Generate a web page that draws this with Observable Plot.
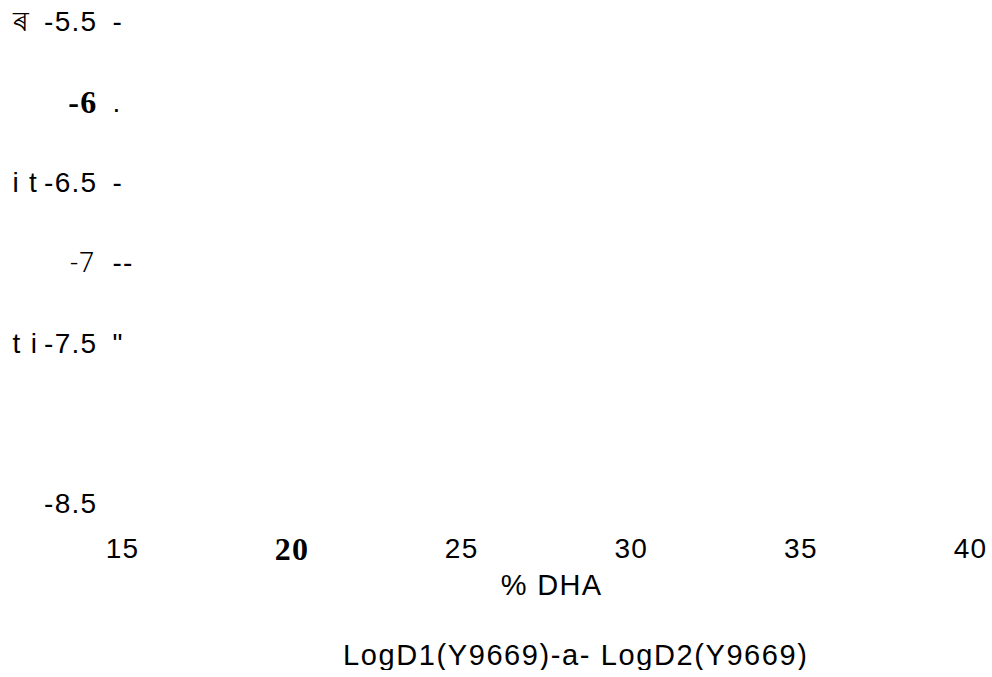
<!DOCTYPE html>
<html>
<head>
<meta charset="utf-8">
<script src="https://cdn.jsdelivr.net/npm/d3@7"></script>
<script src="https://cdn.jsdelivr.net/npm/@observablehq/plot@0.6"></script>
<style>
  html, body { margin: 0; padding: 0; background: #fff; }
  #chart svg { display: block; }
  #legend {
    font-family: "Liberation Sans", Arial, sans-serif;
    font-size: 29px;
    line-height: 29px;
    letter-spacing: 1.6px;
    color: #000;
    margin-top: 31px;
    padding-left: 343px;
    white-space: pre;
  }
</style>
</head>
<body>
<div id="chart"></div>
<div id="legend"></div>
<script>
// ---- data ----
const xTicks = [15, 20, 25, 30, 35, 40];
const yTicks = [-5.5, -6, -6.5, -7, -7.5, -8.5];
const yPrefix = ["ৰ", "", "i t", "", "t i", ""];
const ySuffix = ["-", ".", "-", "--", "\"", ""];
const xLabel = "% DHA";
const legendText = "LogD1(Y9669)-a- LogD2(Y9669)";

// ---- presentation ----
const sans = "'Liberation Sans', Arial, sans-serif";
const serif = "'Liberation Serif', 'Times New Roman', serif";
const boldX = new Set([20]);
const boldY = new Set([-6]);
const lightY = new Set([-7]);
const fmt = d => String(d);

const yRows = yTicks.map((v, i) => ({v, prefix: yPrefix[i], suffix: ySuffix[i]}));

const chart = Plot.plot({
  width: 992,
  height: 610,
  marginTop: 22,
  marginBottom: 106,
  marginLeft: 100,
  marginRight: 22,
  style: {background: "#fff", color: "#000", letterSpacing: "1.3px"},
  x: {domain: [15, 40], insetLeft: 22},
  y: {domain: [-8.5, -5.5]},
  marks: [
    Plot.axisY(yTicks.filter(v => !boldY.has(v) && !lightY.has(v)), {
      anchor: "left", tickSize: 0, tickPadding: 3, tickFormat: fmt,
      fontSize: 28, fontFamily: sans, label: null
    }),
    Plot.axisY(yTicks.filter(v => boldY.has(v)), {
      anchor: "left", tickSize: 0, tickPadding: 3, tickFormat: fmt,
      fontSize: 32, fontFamily: serif, fontWeight: "bold", label: null
    }),
    Plot.axisY(yTicks.filter(v => lightY.has(v)), {
      anchor: "left", tickSize: 0, tickPadding: 5, tickFormat: fmt,
      fontSize: 27, fontFamily: "Roboto, sans-serif", fontWeight: 300, label: null
    }),
    Plot.text(yRows, {
      y: "v", text: "prefix", frameAnchor: "left", textAnchor: "start",
      dx: -88, fontSize: 28, fontFamily: sans
    }),
    Plot.text(yRows, {
      y: "v", text: "suffix", frameAnchor: "left", textAnchor: "start",
      dx: 12, fontSize: 28, fontFamily: sans
    }),
    Plot.axisX(xTicks.filter(v => !boldX.has(v)), {
      anchor: "bottom", tickSize: 0, tickPadding: 34, tickFormat: fmt,
      fontSize: 28, fontFamily: sans, label: null
    }),
    Plot.axisX(xTicks.filter(v => boldX.has(v)), {
      anchor: "bottom", tickSize: 0, tickPadding: 33, tickFormat: fmt,
      fontSize: 32, fontFamily: serif, fontWeight: "bold", label: null
    }),
    Plot.text([xLabel], {
      text: d => d, frameAnchor: "bottom", lineAnchor: "middle",
      dx: 16, dy: 81, fontSize: 29, fontFamily: sans
    })
  ]
});

document.getElementById("chart").append(chart);
document.getElementById("legend").textContent = legendText;
</script>
</body>
</html>
